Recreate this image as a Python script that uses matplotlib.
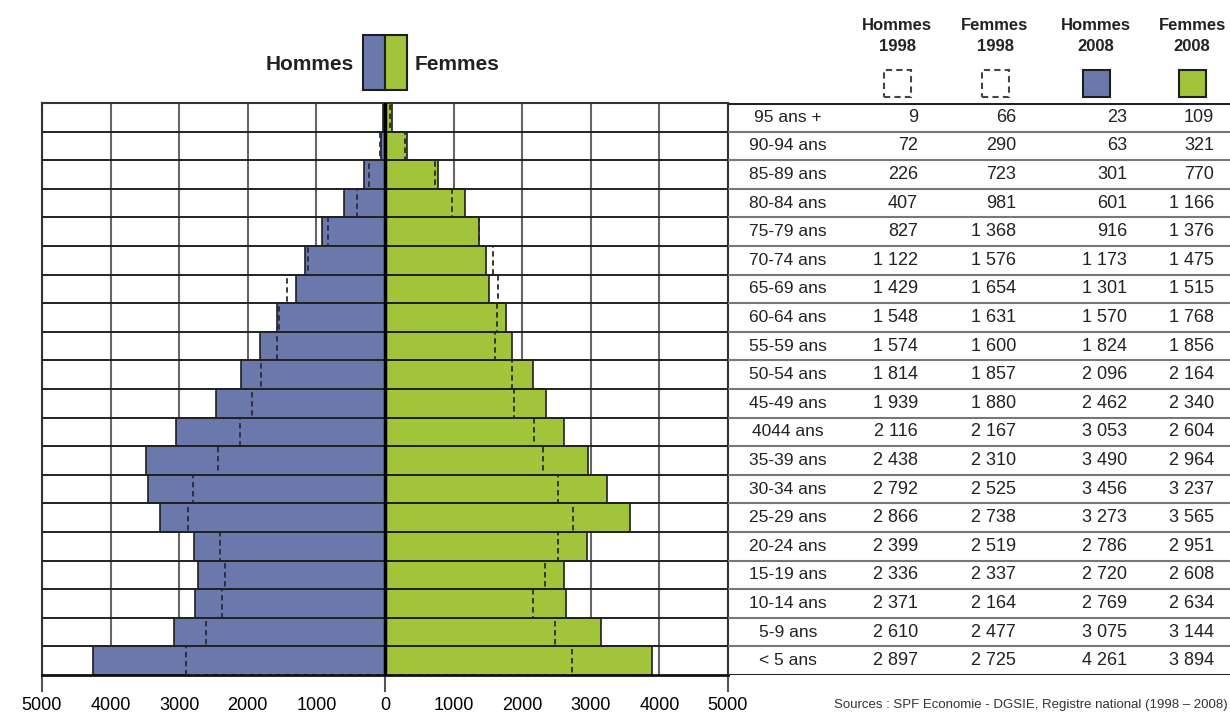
import matplotlib.pyplot as plt
from matplotlib.patches import Rectangle
import numpy as np

plt.rcParams['font.family'] = ['Liberation Sans Narrow', 'Liberation Sans', 'DejaVu Sans']

# data, top row first
ages = ["95 ans +", "90-94 ans", "85-89 ans", "80-84 ans", "75-79 ans", "70-74 ans",
        "65-69 ans", "60-64 ans", "55-59 ans", "50-54 ans", "45-49 ans", "4044 ans",
        "35-39 ans", "30-34 ans", "25-29 ans", "20-24 ans", "15-19 ans", "10-14 ans",
        "5-9 ans", "< 5 ans"]
hommes_1998 = [9, 72, 226, 407, 827, 1122, 1429, 1548, 1574, 1814, 1939, 2116,
               2438, 2792, 2866, 2399, 2336, 2371, 2610, 2897]
femmes_1998 = [66, 290, 723, 981, 1368, 1576, 1654, 1631, 1600, 1857, 1880, 2167,
               2310, 2525, 2738, 2519, 2337, 2164, 2477, 2725]
hommes_2008 = [23, 63, 301, 601, 916, 1173, 1301, 1570, 1824, 2096, 2462, 3053,
               3490, 3456, 3273, 2786, 2720, 2769, 3075, 4261]
femmes_2008 = [109, 321, 770, 1166, 1376, 1475, 1515, 1768, 1856, 2164, 2340, 2604,
               2964, 3237, 3565, 2951, 2608, 2634, 3144, 3894]
ticks = [-5000, -4000, -3000, -2000, -1000, 0, 1000, 2000, 3000, 4000, 5000]
col_heads = ["Hommes\n1998", "Femmes\n1998", "Hommes\n2008", "Femmes\n2008"]

blue = '#6b78ab'
green = '#a2c43a'
dark = '#1e1e1e'

W, H = 1230, 715
fig = plt.figure(figsize=(12.3, 7.15), dpi=100)

def fx(px):
    return px / W

def fy(py):
    return 1 - py / H

n = len(ages)
y = np.arange(n)[::-1] + 0.5

ax = fig.add_axes([fx(42), fy(675), fx(728) - fx(42), fy(103) - fy(675)])
ax.set_xlim(-5000, 5000)
ax.set_ylim(0, n)

for t in ticks:
    ax.axvline(t, color='#666666', lw=1.5, zorder=0)

ax.barh(y, -np.array(hommes_2008), height=1, color=blue, edgecolor=dark, lw=1.2, zorder=2)
ax.barh(y, femmes_2008, height=1, color=green, edgecolor=dark, lw=1.2, zorder=2)
ax.barh(y, -np.array(hommes_1998), height=1, fill=False, edgecolor='#2a2a3a',
        lw=1.3, ls=(0, (3, 2)), zorder=3)
ax.barh(y, femmes_1998, height=1, fill=False, edgecolor='#2a2a1a',
        lw=1.3, ls=(0, (3, 2)), zorder=3)

for k in range(1, n):
    ax.axhline(k, color='#222222', lw=1.4, zorder=4)
ax.axvline(0, color='black', lw=2.5, zorder=5)

for s in ax.spines.values():
    s.set_linewidth(1.5)
    s.set_color('#333333')
ax.spines['bottom'].set_linewidth(2)
ax.spines['bottom'].set_color('#111111')

ax.set_yticks([])
ax.set_xticks(ticks)
ax.set_xticklabels([str(abs(t)) for t in ticks], fontsize=13)
ax.tick_params(axis='x', length=0, pad=16)
for t in [-5000, 0, 5000]:
    ax.plot([t, t], [0, -0.55], color='#555555', lw=1.5, clip_on=False)

# table on the right
tax = fig.add_axes([fx(728), fy(675), fx(W) - fx(728), fy(103) - fy(675)])
tax.set_xlim(728, W)
tax.set_ylim(0, n)
tax.axis('off')
for k in range(1, n):
    tax.axhline(k, color='#777777', lw=1.5)
tax.axhline(n, color='#222222', lw=2.2)
tax.axhline(0, color='#222222', lw=2.2)

num_x = [918, 1016, 1127, 1214]
head_x = [897, 995, 1096, 1192]

def fmt(v):
    s = f"{v:,}".replace(",", " ")
    return s

for i, lab in enumerate(ages):
    tax.text(788, y[i], lab, ha='center', va='center', fontsize=12.5, color='#222222')
    vals = [hommes_1998[i], femmes_1998[i], hommes_2008[i], femmes_2008[i]]
    for xx, v in zip(num_x, vals):
        tax.text(xx, y[i], fmt(v), ha='right', va='center', fontsize=13, color='#222222')

for j, (hx, head) in enumerate(zip(head_x, col_heads)):
    fig.text(fx(hx), fy(36), head, ha='center', va='center', fontsize=12,
             fontweight='bold', color='#222222', linespacing=1.45)
    sq = 27
    if j < 2:
        r = Rectangle((fx(hx - sq / 2), fy(97)), fx(sq), fy(0) - fy(sq), fill=False,
                      edgecolor='#444444', lw=1.5, ls=(0, (3, 2)), transform=fig.transFigure)
    else:
        r = Rectangle((fx(hx - sq / 2), fy(97)), fx(sq), fy(0) - fy(sq),
                      facecolor=[blue, green][j - 2], edgecolor=dark, lw=1.5,
                      transform=fig.transFigure)
    fig.patches.append(r)

# legend at the top of the pyramid
fig.patches.append(Rectangle((fx(363), fy(90)), fx(22), fy(0) - fy(55), facecolor=blue,
                             edgecolor=dark, lw=1.5, transform=fig.transFigure))
fig.patches.append(Rectangle((fx(385), fy(90)), fx(22), fy(0) - fy(55), facecolor=green,
                             edgecolor=dark, lw=1.5, transform=fig.transFigure))
fig.text(fx(354), fy(64), "Hommes", ha='right', va='center', fontsize=15,
         fontweight='bold', color='#222222')
fig.text(fx(415), fy(64), "Femmes", ha='left', va='center', fontsize=15,
         fontweight='bold', color='#222222')

fig.text(fx(1228), fy(705), "Sources : SPF Economie - DGSIE, Registre national (1998 \u2013 2008)",
         ha='right', va='center', fontsize=9.5, color='#333333')

fig.savefig('out.png', dpi=100)
